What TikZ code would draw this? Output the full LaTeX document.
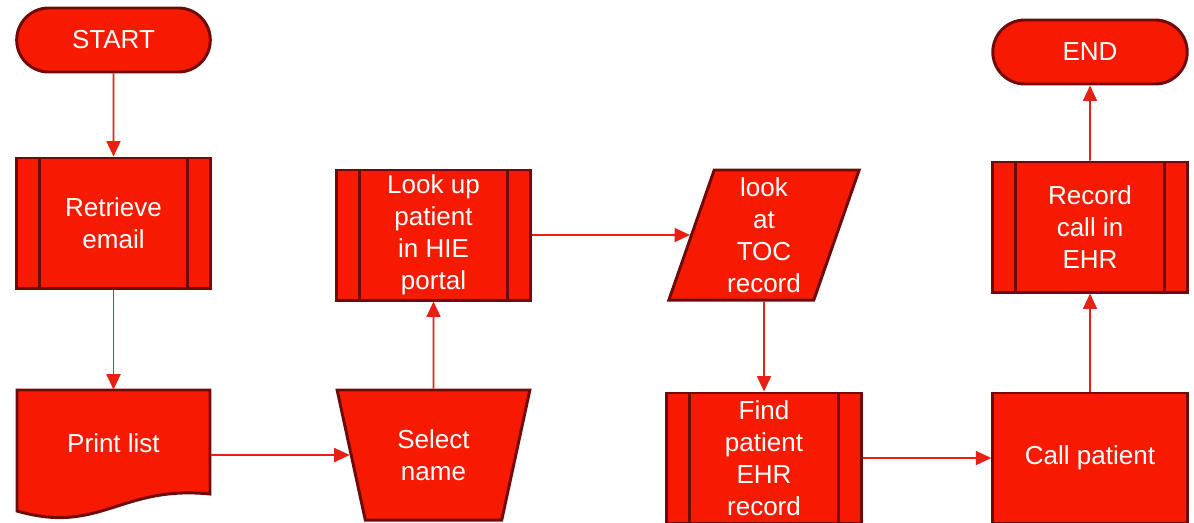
\documentclass[tikz,border=0pt]{standalone}
\usepackage{fontspec}
\setmainfont{Liberation Sans}
\usetikzlibrary{arrows.meta,shapes.geometric,shapes.misc,positioning,backgrounds}

\definecolor{boxred}{RGB}{246,27,0}
\definecolor{edgered}{RGB}{112,10,10}
\definecolor{linered}{RGB}{232,32,20}

\tikzset{
    shapebox/.style={draw=edgered, fill=boxred, line width=2.1pt},
    txt/.style={text=white, font=\fontsize{18.5}{22.7}\selectfont, align=center, inner sep=0pt},
    term/.style={shapebox, txt, rounded rectangle, minimum width=4.84cm, minimum height=1.6cm},
    proc/.style={shapebox, txt, rectangle, minimum width=4.84cm, minimum height=3.25cm},
    flow/.style={draw=linered, line width=1.1pt, -{Triangle[length=11pt,width=10pt]}},
}

\begin{document}
\begin{tikzpicture}[x=0.025cm, y=-0.025cm]
    \useasboundingbox (0,0) rectangle (1194,522);

    % first column
    \node[term] (start) at (113.5,40) {START};
    \node[proc] (retr) at (113.5,223) {Retrieve\\email};
    \node[txt, minimum width=4.84cm, minimum height=3.25cm] (print) at (113.5,455) {\raisebox{0.6cm}{Print list}};
    \begin{scope}[on background layer]
        \filldraw[shapebox] (17,390) -- (210,390) -- (210,494)
            .. controls (120,485) and (100,535) .. (17,511) -- cycle;
    \end{scope}

    % second column
    \node[shapebox, txt, trapezium, trapezium angle=73.7, shape border rotate=180,
          trapezium stretches=true, minimum width=4.84cm, minimum height=3.25cm]
          (select) at (433.5,455) {Select\\name};
    \node[proc] (lookup) at (433.5,235) {Look up\\patient\\in HIE\\portal};

    % third column
    \node[shapebox, txt, trapezium, trapezium left angle=73.7, trapezium right angle=106.3,
          trapezium stretches=true, minimum width=4.8cm, minimum height=3.25cm]
          (toc) at (764,235) {look\\at\\TOC\\record};
    \node[proc, minimum width=4.86cm] (find) at (764,458) {Find\\patient\\EHR\\record};

    % fourth column
    \node[proc, minimum width=4.86cm] (call) at (1090,458) {Call patient};
    \node[proc, minimum width=4.86cm] (rec) at (1090,227) {Record\\call in\\EHR};
    \node[term, minimum width=4.86cm] (end) at (1090,52) {END};

    % side bars of the predefined steps
    \foreach \n in {retr,lookup,find,rec} {
        \draw[edgered, line width=2.1pt] ([xshift=0.6cm]\n.north west) -- ([xshift=0.6cm]\n.south west);
        \draw[edgered, line width=2.1pt] ([xshift=-0.6cm]\n.north east) -- ([xshift=-0.6cm]\n.south east);
    }

    \draw[flow] (start) -- (retr);
    \draw[flow] (retr) -- (print);
    \draw[flow] (print) -- (select);
    \draw[flow] (select) -- (lookup);
    \draw[flow] (lookup) -- (toc);
    \draw[flow] (toc) -- (find);
    \draw[flow] (find) -- (call);
    \draw[flow] (call) -- (rec);
    \draw[flow] (rec) -- (end);

\end{tikzpicture}
\end{document}
